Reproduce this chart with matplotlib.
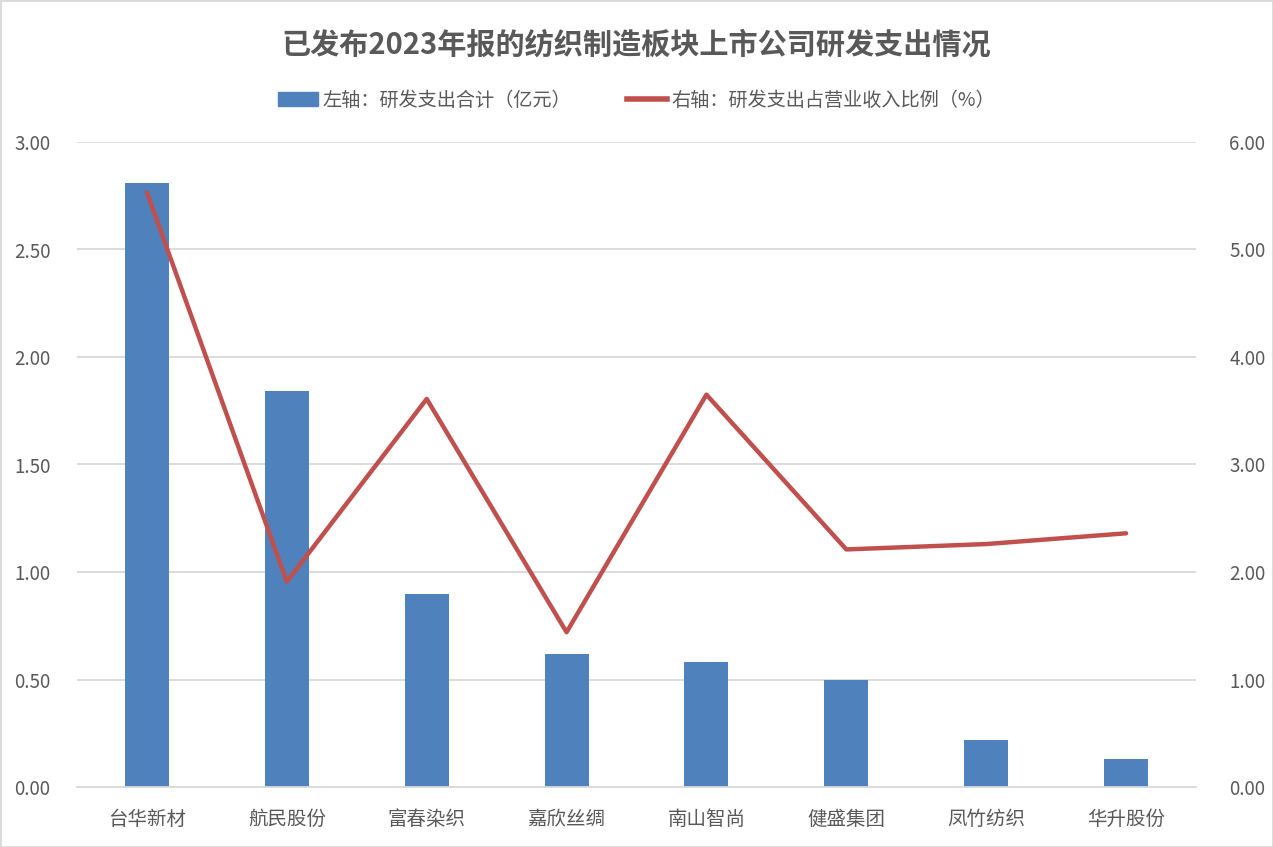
import numpy as np
import matplotlib
matplotlib.use('Agg')
import matplotlib.pyplot as plt
from matplotlib.patches import Patch
from matplotlib.lines import Line2D

plt.rcParams['font.family'] = ['Noto Sans CJK SC', 'DejaVu Sans']

# data
companies = ['台华新材', '航民股份', '富春染织', '嘉欣丝绸', '南山智尚', '健盛集团', '凤竹纺织', '华升股份']
rd_total = [2.81, 1.84, 0.90, 0.62, 0.58, 0.50, 0.22, 0.13]      # 亿元
rd_ratio = [5.53, 1.91, 3.61, 1.44, 3.65, 2.21, 2.26, 2.36]      # %
left_ticks = [0, 0.5, 1.0, 1.5, 2.0, 2.5, 3.0]
right_ticks = [0, 1, 2, 3, 4, 5, 6]

text_color = '#595959'
bar_color = '#4F81BD'
line_color = '#C0504D'

fig = plt.figure(figsize=(12.73, 8.47), dpi=100)
ax = fig.add_axes([77 / 1273, 60 / 847, 1119 / 1273, 645 / 847])
ax2 = ax.twinx()

x = np.arange(len(companies))
ax.bar(x, rd_total, width=0.315, color=bar_color, zorder=2)
ax2.plot(x, rd_ratio, color=line_color, lw=3.2, solid_capstyle='round',
         solid_joinstyle='round', zorder=3)

ax.set_xlim(-0.5, len(companies) - 0.5)
ax.set_ylim(0, 3)
ax2.set_ylim(0, 6)
ax.set_yticks(left_ticks)
ax.set_yticklabels([f'{v:.2f}' for v in left_ticks])
ax2.set_yticks(right_ticks)
ax2.set_yticklabels([f'{v:.2f}' for v in right_ticks])
ax.set_xticks(x)
ax.set_xticklabels(companies, fontsize=14)

ax.grid(axis='y', color='#D9D9D9', lw=1.3, zorder=0)
ax.set_axisbelow(True)
for a in (ax, ax2):
    for s in a.spines.values():
        s.set_visible(False)
    a.tick_params(axis='y', length=0, labelsize=13.5, labelcolor=text_color)
ax.tick_params(axis='x', length=0, labelcolor=text_color, pad=16)
ax.spines['bottom'].set_visible(True)
ax.spines['bottom'].set_color('#D9D9D9')
ax.spines['bottom'].set_linewidth(1.3)
ax.tick_params(axis='y', pad=19)
ax2.tick_params(axis='y', pad=24)

fig.text(0.5, 1 - 45 / 847, '已发布2023年报的纺织制造板块上市公司研发支出情况',
         ha='center', va='center', fontsize=21, fontweight='bold', color=text_color)

handles = [Patch(color=bar_color), Line2D([], [], color=line_color, lw=4)]
labels = ['左轴：研发支出合计（亿元）', '右轴：研发支出占营业收入比例（%）']
fig.legend(handles, labels, loc='center', bbox_to_anchor=(0.5, 1 - 100 / 847),
           ncol=2, frameon=False, fontsize=13.8, labelcolor=text_color,
           handlelength=2.1, handleheight=0.8, handletextpad=0.25, columnspacing=2.9)

fig.patches.append(plt.Rectangle((0, 0), 1, 1, transform=fig.transFigure,
                                 fill=False, edgecolor='#D9D9D9', lw=2))

fig.savefig('out.png', dpi=100)
